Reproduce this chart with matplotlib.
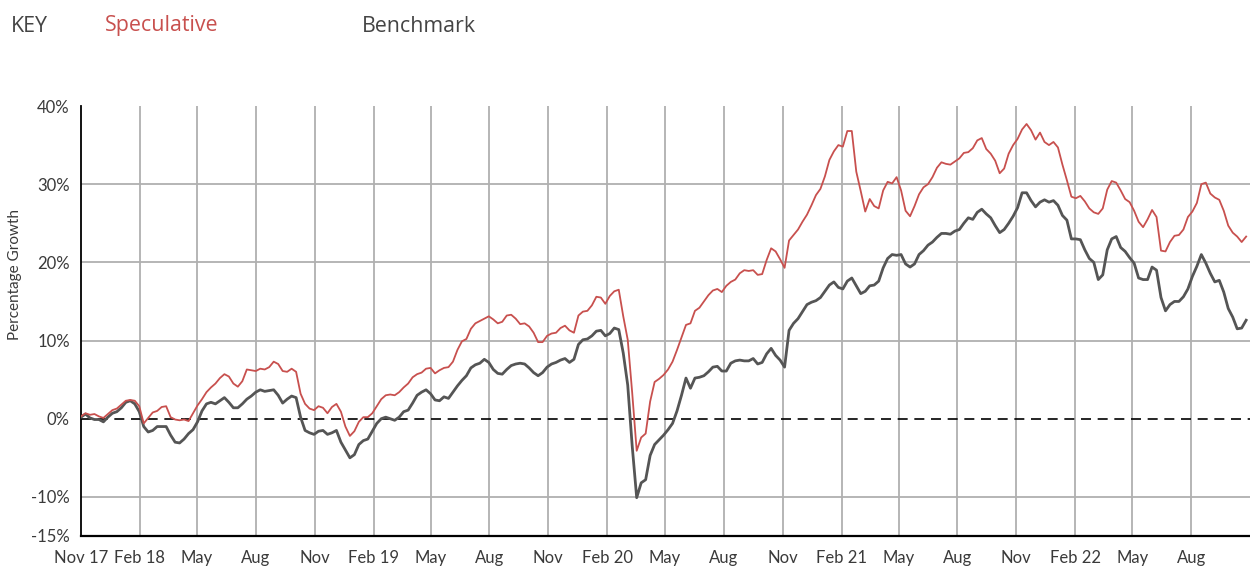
import matplotlib
matplotlib.use('Agg')
import matplotlib.pyplot as plt
import pandas as pd

# ---------------- data ----------------
start_date = '2017-11-01'

speculative = [
    0.3, 0.7, 0.5, 0.6, 0.3, 0.1, 0.6, 1.1, 1.3, 1.8,
    2.3, 2.4, 2.3, 1.6, -0.6, 0.1, 0.8, 1.0, 1.5, 1.6,
    0.2, -0.1, -0.2, -0.1, -0.3, 0.7, 1.7, 2.5, 3.4, 4.0,
    4.5, 5.2, 5.7, 5.4, 4.5, 4.1, 4.8, 6.3, 6.2, 6.1,
    6.4, 6.3, 6.6, 7.3, 7.0, 6.1, 6.0, 6.4, 6.0, 3.2,
    1.9, 1.3, 1.1, 1.6, 1.4, 0.7, 1.5, 1.9, 0.9, -1.0,
    -2.2, -1.6, -0.4, 0.2, 0.2, 0.7, 1.6, 2.5, 3.0, 3.1,
    3.0, 3.4, 4.0, 4.5, 5.3, 5.7, 5.9, 6.4, 6.5, 5.8,
    6.2, 6.5, 6.6, 7.3, 8.8, 9.9, 10.2, 11.5, 12.2, 12.5,
    12.8, 13.1, 12.7, 12.2, 12.4, 13.2, 13.3, 12.8, 12.1, 12.2,
    11.8, 11.0, 9.8, 9.8, 10.6, 10.9, 11.0, 11.6, 11.9, 11.3,
    11.0, 13.2, 13.7, 13.8, 14.5, 15.6, 15.5, 14.7, 15.7, 16.3,
    16.5, 13.1, 10.1, 3.3, -4.1, -2.4, -1.9, 2.2, 4.7, 5.1,
    5.6, 6.3, 7.3, 8.8, 10.4, 12.0, 12.2, 13.8, 14.2, 15.0,
    15.8, 16.4, 16.6, 16.2, 17.0, 17.5, 17.8, 18.6, 19.0, 18.9,
    19.0, 18.4, 18.5, 20.3, 21.8, 21.4, 20.4, 19.3, 22.8, 23.5,
    24.2, 25.2, 26.1, 27.3, 28.6, 29.4, 31.0, 33.1, 34.2, 35.0,
    34.8, 36.8, 36.8, 31.6, 29.1, 26.5, 28.1, 27.2, 26.9, 29.2,
    30.3, 30.1, 30.9, 29.2, 26.6, 25.9, 27.2, 28.7, 29.6, 30.0,
    30.9, 32.1, 32.8, 32.6, 32.5, 32.9, 33.3, 34.0, 34.1, 34.6,
    35.6, 35.9, 34.5, 33.9, 33.0, 31.4, 32.0, 33.9, 35.0, 35.8,
    37.0, 37.7, 36.9, 35.7, 36.6, 35.4, 35.0, 35.4, 34.7, 32.5,
    30.5, 28.4, 28.2, 28.5, 27.8, 26.9, 26.4, 26.2, 26.9, 29.3,
    30.4, 30.2, 29.2, 28.1, 27.7, 26.6, 25.2, 24.5, 25.5, 26.7,
    25.8, 21.5, 21.4, 22.6, 23.4, 23.5, 24.2, 25.8, 26.5, 27.6,
    30.0, 30.2, 28.8, 28.3, 28.0, 26.6, 24.7, 23.8, 23.3, 22.6, 23.3,
]

benchmark = [
    0.2, 0.6, 0.1, -0.1, -0.1, -0.4, 0.2, 0.7, 0.9, 1.4,
    2.1, 2.3, 1.9, 0.9, -1.0, -1.7, -1.5, -1.0, -1.0, -1.0,
    -2.1, -3.0, -3.1, -2.6, -1.9, -1.4, -0.4, 1.0, 1.9, 2.1,
    1.9, 2.3, 2.7, 2.1, 1.4, 1.4, 1.9, 2.5, 2.9, 3.4,
    3.7, 3.5, 3.6, 3.7, 3.0, 2.0, 2.5, 2.9, 2.7, 0.2,
    -1.5, -1.8, -2.0, -1.6, -1.5, -2.0, -1.8, -1.5, -3.0, -4.0,
    -5.0, -4.6, -3.3, -2.8, -2.6, -1.6, -0.6, 0.0, 0.2, 0.0,
    -0.2, 0.2, 0.9, 1.1, 2.0, 3.0, 3.4, 3.7, 3.2, 2.4,
    2.3, 2.8, 2.6, 3.4, 4.2, 4.9, 5.5, 6.5, 6.9, 7.1,
    7.6, 7.2, 6.3, 5.8, 5.7, 6.3, 6.8, 7.0, 7.1, 7.0,
    6.5, 5.9, 5.5, 5.9, 6.6, 7.0, 7.2, 7.5, 7.7, 7.2,
    7.6, 9.5, 10.1, 10.2, 10.6, 11.2, 11.3, 10.6, 10.9, 11.6,
    11.4, 8.4, 4.3, -3.5, -10.1, -8.2, -7.8, -4.7, -3.3, -2.7,
    -2.1, -1.4, -0.6, 1.0, 3.0, 5.2, 3.9, 5.2, 5.3, 5.5,
    6.0, 6.6, 6.7, 6.1, 6.1, 7.1, 7.4, 7.5, 7.4, 7.4,
    7.7, 7.0, 7.2, 8.3, 9.0, 8.1, 7.5, 6.6, 11.3, 12.2,
    12.8, 13.7, 14.6, 14.9, 15.1, 15.5, 16.3, 17.1, 17.5, 16.8,
    16.6, 17.6, 18.0, 17.0, 16.0, 16.3, 17.0, 17.1, 17.6, 19.3,
    20.5, 21.0, 20.9, 21.0, 19.8, 19.4, 19.8, 21.0, 21.5, 22.2,
    22.6, 23.2, 23.7, 23.7, 23.6, 24.0, 24.2, 25.0, 25.7, 25.5,
    26.4, 26.8, 26.2, 25.7, 24.7, 23.8, 24.2, 25.0, 25.9, 27.0,
    28.9, 28.9, 27.9, 27.1, 27.7, 28.0, 27.7, 27.9, 27.3, 26.0,
    25.4, 23.0, 23.0, 22.9, 21.6, 20.5, 20.0, 17.8, 18.4, 21.6,
    23.0, 23.3, 21.9, 21.4, 20.6, 19.9, 18.0, 17.8, 17.8, 19.4,
    19.0, 15.5, 13.8, 14.6, 15.0, 15.0, 15.6, 16.6, 18.2, 19.5,
    21.0, 19.9, 18.6, 17.5, 17.7, 16.2, 14.1, 13.0, 11.5, 11.6, 12.6,
]

tick_dates = ['2017-11-01', '2018-02-01', '2018-05-01', '2018-08-01',
              '2018-11-01', '2019-02-01', '2019-05-01', '2019-08-01',
              '2019-11-01', '2020-02-01', '2020-05-01', '2020-08-01',
              '2020-11-01', '2021-02-01', '2021-05-01', '2021-08-01',
              '2021-11-01', '2022-02-01', '2022-05-01', '2022-08-01']
tick_labels = ['Nov 17', 'Feb 18', 'May', 'Aug', 'Nov', 'Feb 19', 'May', 'Aug',
               'Nov', 'Feb 20', 'May', 'Aug', 'Nov', 'Feb 21', 'May', 'Aug',
               'Nov', 'Feb 22', 'May', 'Aug']
y_ticks = [40, 30, 20, 10, 0, -10, -15]
y_grid = [30, 20, 10, -10]
x_range = ['2017-11-01', '2022-11-01']

# ---------------- style ----------------
RED = '#c8504e'
DARK = '#555555'
GRID = '#b0b0b0'
TEXT = '#3a3a3a'
TICK_FONT = ['Lato', 'DejaVu Sans']
KEY_FONT = ['Open Sans', 'DejaVu Sans']

dates = pd.date_range(start_date, periods=len(speculative), freq='7D')
tdates = pd.to_datetime(tick_dates)

W, H = 1250, 566
fig = plt.figure(figsize=(W / 100, H / 100), dpi=100)
ax = fig.add_axes([81 / W, 30 / H, 1 - 81 / W, 430 / H])

ax.set_xlim(pd.Timestamp(x_range[0]), pd.Timestamp(x_range[1]))
ax.set_ylim(-15, 40)

for yv in y_grid:
    ax.axhline(yv, color=GRID, lw=1.3, zorder=1)
for td in tdates[1:]:
    ax.axvline(td, color=GRID, lw=1.3, zorder=1)
ax.axhline(0, color='black', lw=1.2, ls=(0, (6, 4)), zorder=2)

ax.plot(dates, benchmark, color=DARK, lw=2.0, zorder=3, solid_joinstyle='round')
ax.plot(dates, speculative, color=RED, lw=1.3, zorder=4, solid_joinstyle='round')

ax.set_yticks(y_ticks)
ax.set_yticklabels([f'{v}%' for v in y_ticks], fontsize=12, color=TEXT,
                   family=TICK_FONT)
ax.set_xticks(tdates)
ax.set_xticklabels(tick_labels, fontsize=12, color=TEXT, family=TICK_FONT)
ax.tick_params(axis='both', length=0)
ax.tick_params(axis='x', pad=10)
ax.tick_params(axis='y', pad=8)

for s in ['top', 'right']:
    ax.spines[s].set_visible(False)
ax.spines['left'].set_color('black')
ax.spines['left'].set_linewidth(1.3)
ax.spines['bottom'].set_color('black')
ax.spines['bottom'].set_linewidth(1.6)

fig.text(15 / W, 1 - 274 / H, 'Percentage Growth', rotation=90, ha='center',
         va='center', fontsize=11, color=TEXT, family=TICK_FONT)

fig.text(11 / W, 1 - 26 / H, 'KEY', ha='left', va='center', fontsize=15.4,
         color='#444444', family=KEY_FONT)
fig.text(105 / W, 1 - 26 / H, 'Speculative', ha='left', va='center',
         fontsize=15.4, color=RED, family=KEY_FONT)
fig.text(362 / W, 1 - 26 / H, 'Benchmark', ha='left', va='center',
         fontsize=15.4, color='#444444', family=KEY_FONT)

fig.savefig('out.png', dpi=100)
